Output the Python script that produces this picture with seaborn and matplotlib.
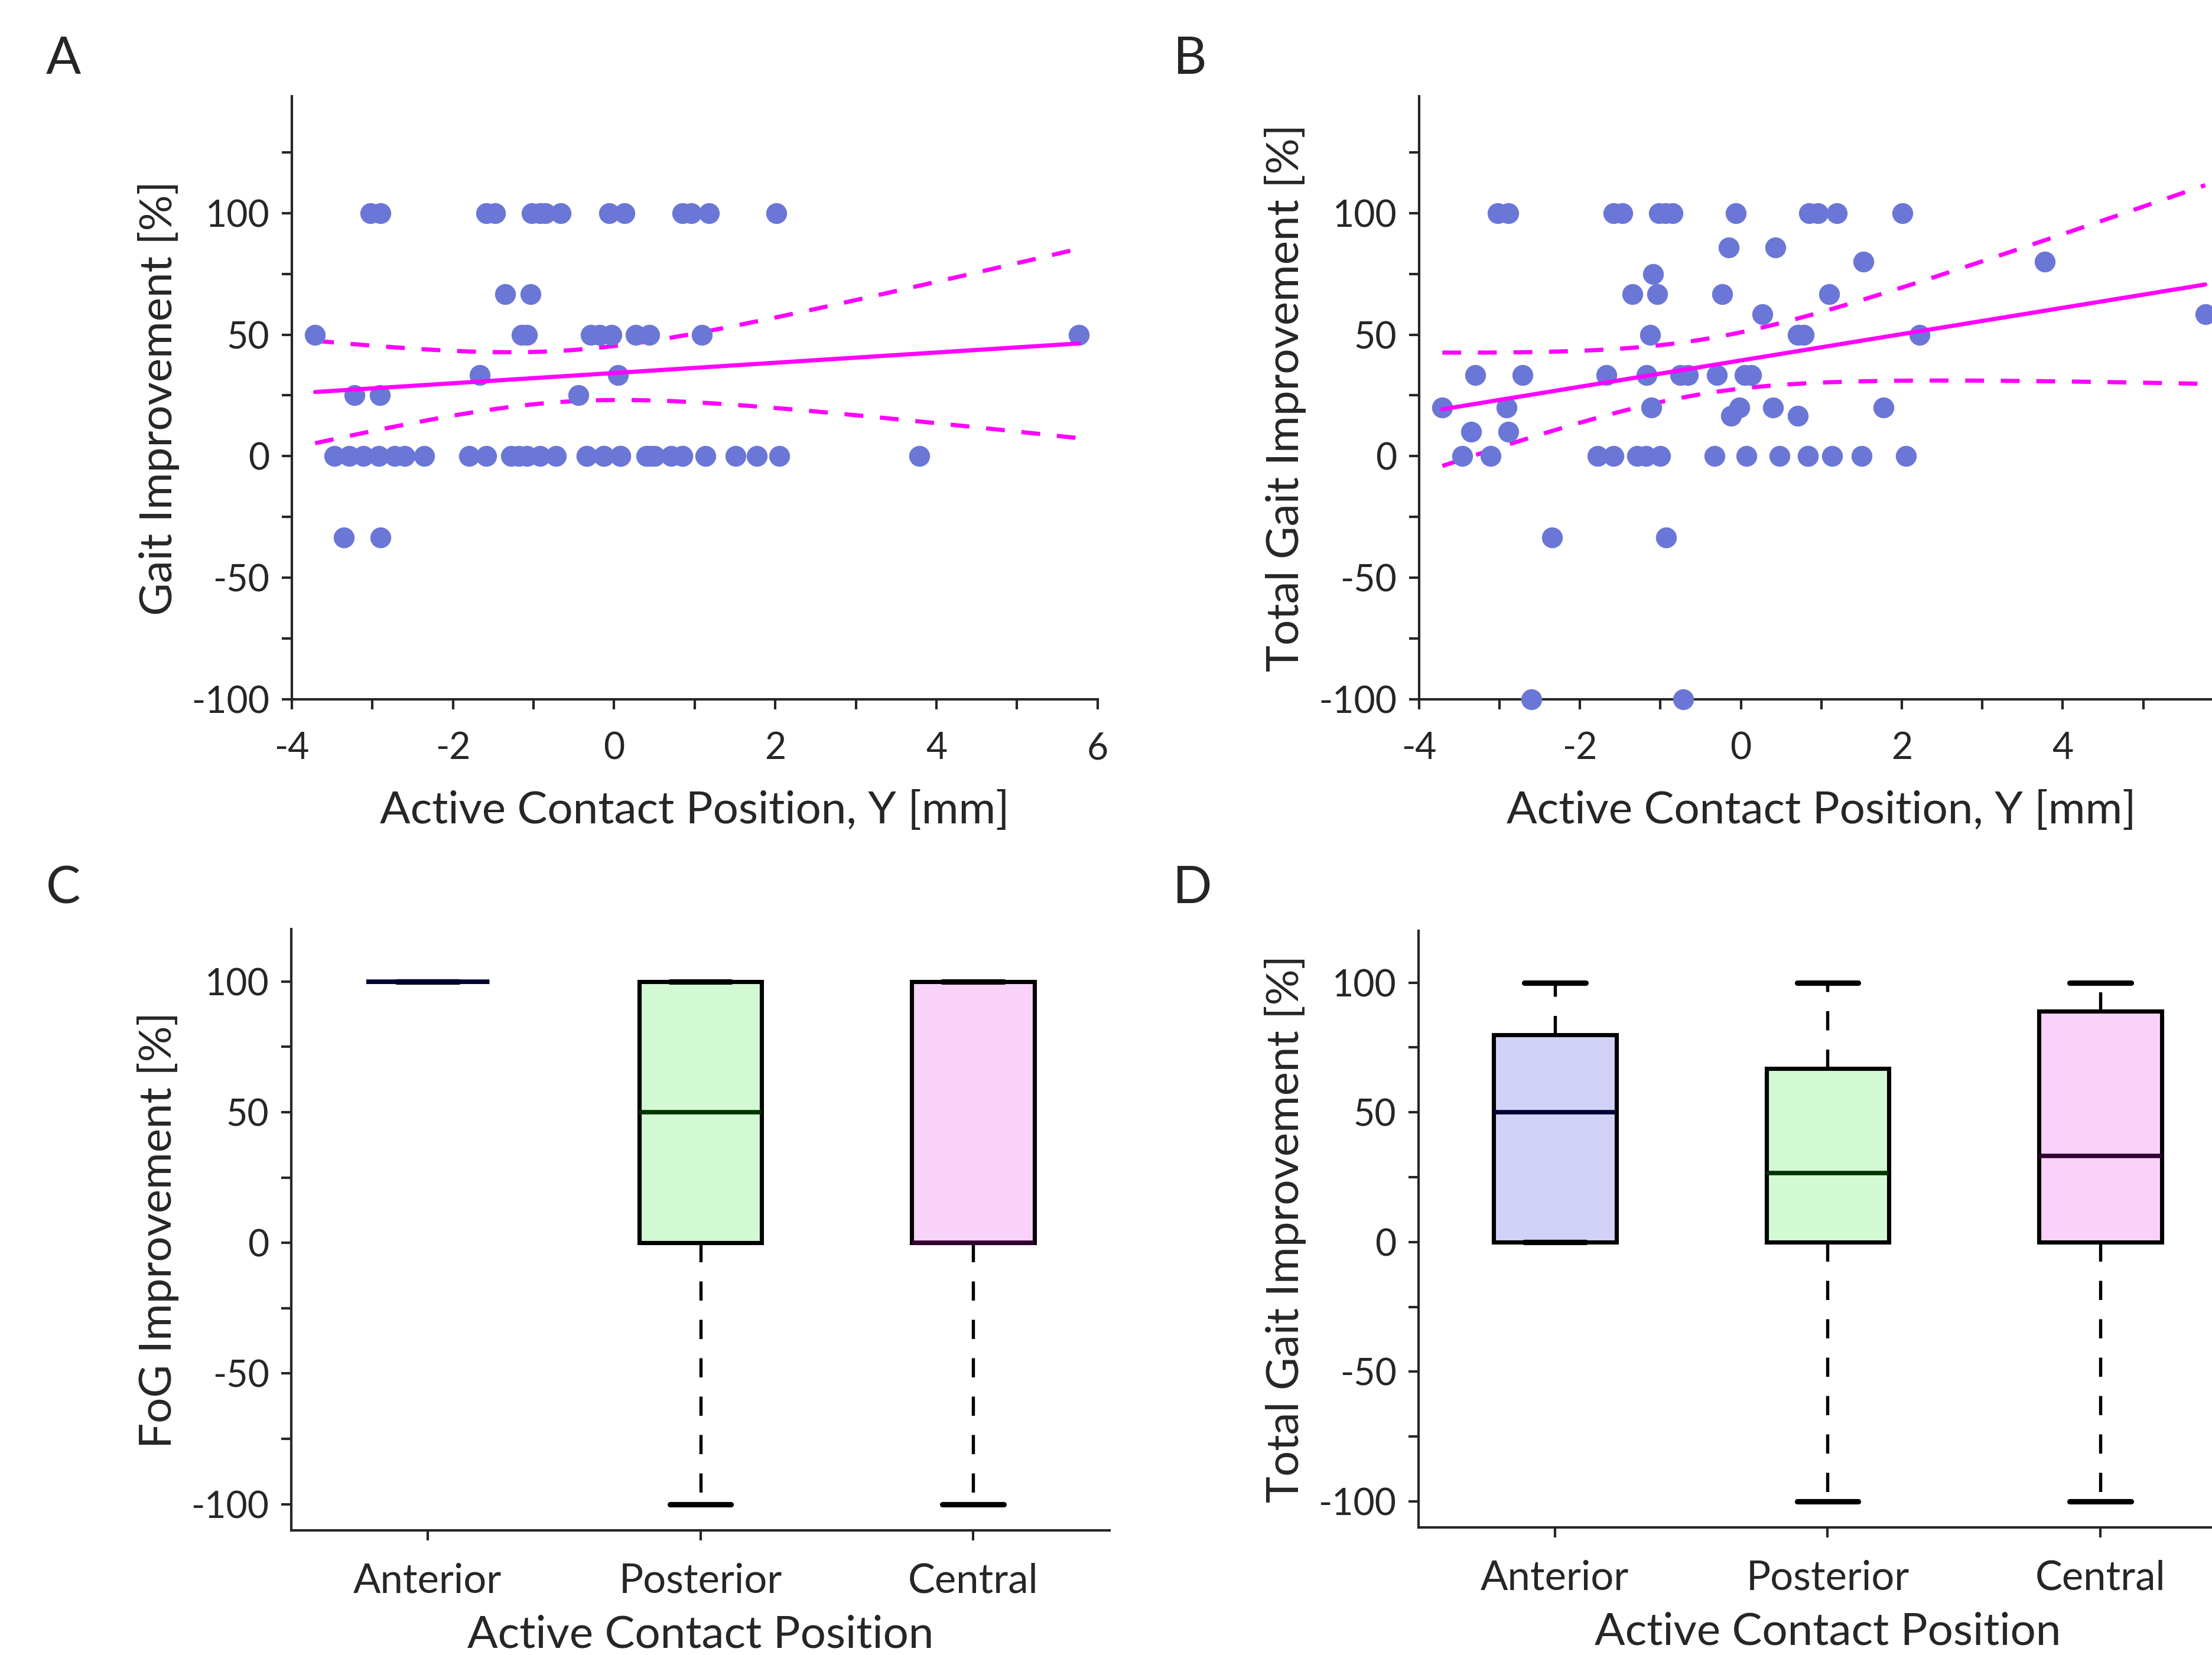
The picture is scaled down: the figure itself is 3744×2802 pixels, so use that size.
import numpy as np
import pandas as pd
import seaborn as sns
import matplotlib.pyplot as plt
from matplotlib.ticker import FixedLocator


# panel A: gait improvement vs active contact position Y
a_x = [-3.02, -2.90, -1.59, -1.48, -1.02, -0.92, -0.85, -0.66, -0.06, 0.13, 0.85, 0.96, 1.18, 2.01,
       -1.35, -1.04,
       -3.71, -1.15, -1.08, -0.29, -0.18, -0.03, 0.27, 0.44, 1.09, 5.77,
       -1.67, 0.05,
       -3.22, -2.91, -0.44,
       -3.47, -3.29, -3.11, -2.92, -2.72, -2.60, -2.36, -1.80, -1.59, -1.28, -1.18, -1.08, -0.92,
       -0.72, -0.34, -0.34, -0.13, -0.13, 0.08, 0.08, 0.40, 0.45, 0.50, 0.71, 0.85, 0.85, 1.13,
       1.51, 1.77, 2.05, 3.79,
       -3.35, -2.90]
a_y = [100] * 14 + [66.7] * 2 + [50] * 10 + [33.3] * 2 + [25] * 3 + [0] * 31 + [-33.3] * 2

# panel B: total gait improvement vs active contact position Y
b_x = [-3.02, -2.89, -1.58, -1.47, -1.02, -0.94, -0.85, -0.06, 0.85, 0.96, 1.19, 2.01,
       -0.15, 0.43,
       1.52, 3.78,
       -1.09,
       -1.35, -1.04, -0.23, 1.10,
       0.27, 5.77,
       -1.13, 0.71, 0.78, 2.22,
       -3.30, -2.71, -1.67, -1.17, -0.75, -0.66, -0.30, 0.05, 0.13,
       -3.71, -2.91, -1.11, -0.02, 0.40, 1.77,
       -0.12, 0.71,
       -3.35, -2.89,
       -3.46, -3.11, -1.78, -1.58, -1.29, -1.18, -1.00, -0.33, 0.07, 0.48, 0.83, 0.83, 1.13, 1.50,
       2.05,
       -2.35, -0.93,
       -2.60, -0.72]
b_y = ([100] * 12 + [85.8] * 2 + [80] * 2 + [75] + [66.7] * 4 + [58.3] * 2 + [50] * 4 +
       [33.3] * 9 + [20] * 6 + [16.7] * 2 + [10] * 2 + [0] * 15 + [-33.3] * 2 + [-100] * 2)

# panels C and D: improvement per active contact position
positions = ["Anterior", "Posterior", "Central"]
fog_anterior = [100, 100, 100]
fog_posterior = [-100, 0, 50, 100, 100]
fog_central = [-100, 0, 0, 100, 100]
tot_anterior = [0, 0, 50, 80, 100]
tot_posterior = [-100, 0, 0, 26.5, 67, 67, 100]
tot_central = [-100, 0, 0, 33.3, 89, 89, 100]

box_colors = ["#ccccff", "#ccffcc", "#ffccff"]
median_colors = ["#000033", "#003300", "#330033"]
dot_color = "#6b77d6"
fit_color = "#ff00ff"

sns.set_style("ticks")
plt.rcParams['font.family'] = ['Lato', 'DejaVu Sans']
plt.rcParams['axes.unicode_minus'] = False
plt.rcParams['axes.linewidth'] = 1.0

TICK_FS = 15
LABEL_FS = 18.3


def style_axis(ax, xpad=9):
    sns.despine(ax=ax)
    ax.tick_params(which='both', direction='out', length=4, width=1.0,
                   labelsize=TICK_FS)
    ax.tick_params(axis='y', which='both', pad=5)
    ax.tick_params(axis='x', which='both', pad=xpad)
    for sp in ax.spines.values():
        sp.set_linewidth(1.0)


def fit_with_ci(ax, x, y):
    x = np.asarray(x, float)
    y = np.asarray(y, float)
    n = len(x)
    slope, icpt = np.polyfit(x, y, 1)
    resid = y - (slope * x + icpt)
    s = np.sqrt(np.sum(resid ** 2) / (n - 2))
    sxx = np.sum((x - x.mean()) ** 2)
    z = 1.96
    t = z + (z ** 3 + z) / (4 * (n - 2))
    xs = np.linspace(x.min(), x.max(), 200)
    ys = slope * xs + icpt
    half = t * s * np.sqrt(1.0 / n + (xs - x.mean()) ** 2 / sxx)
    ax.plot(xs, ys + half, color=fit_color, lw=1.7, ls=(0, (4.5, 4)))
    ax.plot(xs, ys - half, color=fit_color, lw=1.7, ls=(0, (4.5, 4)))


def scatter_panel(ax, x, y, ylabel, xticks):
    df = pd.DataFrame({'x': x, 'y': y})
    sns.regplot(data=df, x='x', y='y', ax=ax, ci=None,
                scatter_kws={'s': 72, 'color': dot_color, 'alpha': 1,
                             'linewidths': 0, 'clip_on': False, 'zorder': 3},
                line_kws={'color': fit_color, 'lw': 1.7, 'zorder': 4})
    fit_with_ci(ax, x, y)
    ax.set_xlim(-4, 6)
    ax.set_ylim(-100, 148)
    ax.xaxis.set_major_locator(FixedLocator(xticks))
    ax.xaxis.set_minor_locator(FixedLocator([-3, -1, 1, 3, 5]))
    ax.yaxis.set_major_locator(FixedLocator([-100, -50, 0, 50, 100]))
    ax.yaxis.set_minor_locator(FixedLocator([-75, -25, 25, 75, 125]))
    ax.set_xlabel('Active Contact Position, Y [mm]', fontsize=LABEL_FS, labelpad=10)
    ax.set_ylabel(ylabel, fontsize=LABEL_FS, labelpad=5)
    style_axis(ax)


def box_panel(ax, groups, ylabel):
    df = pd.DataFrame({
        'pos': sum([[p] * len(g) for p, g in zip(positions, groups)], []),
        'val': sum([list(g) for g in groups], []),
    })
    sns.boxplot(data=df, x='pos', y='val', hue='pos', order=positions,
                hue_order=positions, palette=box_colors, width=0.45,
                linecolor='black', linewidth=1.7, showfliers=False,
                legend=False, ax=ax,
                whiskerprops={'linestyle': (0, (6, 6)), 'linewidth': 1.3},
                capprops={'linewidth': 2.2},
                medianprops={'linewidth': 1.8})
    for cont, mcol in zip(ax.containers, median_colors):
        for med in cont.medians:
            med.set_color(mcol)
    ax.set_xlim(-0.5, 2.5)
    ax.set_ylim(-110, 120)
    ax.yaxis.set_major_locator(FixedLocator([-100, -50, 0, 50, 100]))
    ax.yaxis.set_minor_locator(FixedLocator([-75, -25, 25, 75]))
    ax.set_xlabel('Active Contact Position', fontsize=LABEL_FS, labelpad=6)
    ax.set_ylabel(ylabel, fontsize=LABEL_FS, labelpad=5)
    style_axis(ax, xpad=9)
    ax.tick_params(axis='x', labelsize=16.5)


fig = plt.figure(figsize=(12.48, 9.34), dpi=300)
ax_a = fig.add_axes([0.1319, 0.5774, 0.3643, 0.3644])
ax_b = fig.add_axes([0.6415, 0.5774, 0.3638, 0.3644])
ax_c = fig.add_axes([0.1317, 0.0753, 0.3699, 0.3633])
ax_d = fig.add_axes([0.6413, 0.0771, 0.3699, 0.3605])

# panel B runs past the right edge of the figure, like the source image
scatter_panel(ax_a, a_x, a_y, 'Gait Improvement [%]', [-4, -2, 0, 2, 4, 6])
scatter_panel(ax_b, b_x, b_y, 'Total Gait Improvement [%]', [-4, -2, 0, 2, 4])
box_panel(ax_c, [fog_anterior, fog_posterior, fog_central], 'FoG Improvement [%]')
box_panel(ax_d, [tot_anterior, tot_posterior, tot_central], 'Total Gait Improvement [%]')

for letter, (fx, fy) in zip("ABCD", [(0.0286, 0.964), (0.538, 0.964),
                                     (0.0286, 0.463), (0.539, 0.463)]):
    fig.text(fx, fy, letter, fontsize=21, ha='center', va='center')

fig.savefig('out.png', dpi=300)
